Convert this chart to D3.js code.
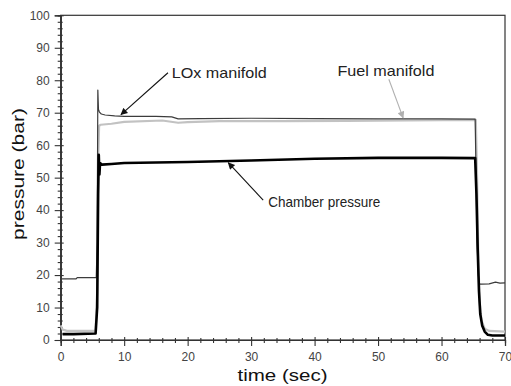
<!DOCTYPE html>
<html>
<head>
<meta charset="utf-8">
<script src="https://cdn.jsdelivr.net/npm/d3@7"></script>
<style>
  html, body { margin: 0; padding: 0; background: #fff; }
  svg { display: block; font-family: Arial, "Liberation Sans", sans-serif; }
</style>
</head>
<body>
<svg width="511" height="386"></svg>
<script>
// LOx manifold (thin dark grey)
const loxTime = [0, 2.4, 2.6, 5.6, 5.75, 5.85, 5.95, 6.1, 6.4, 7, 8.5, 10, 15, 17.5, 18.5, 22, 30, 40, 50, 60, 65.3, 65.45, 65.6, 65.8, 66.0, 66.3, 67.5, 68.5, 69.2, 70];
const loxValue = [18.8, 18.8, 19.2, 19.2, 30, 77, 71, 70.2, 69.6, 69.3, 69.0, 68.9, 68.9, 68.7, 68.1, 68.2, 68.3, 68.2, 68.1, 68.1, 68.0, 50, 30, 20, 17.2, 17.2, 17.3, 17.8, 17.5, 17.6];

// Fuel manifold (light grey)
const fuelTime = [0, 0.3, 1, 5.5, 5.75, 5.9, 6.05, 6.3, 8, 10, 16, 18.5, 20, 25, 35, 45, 55, 65.4, 65.6, 65.8, 66.0, 66.3, 66.8, 67.5, 70];
const fuelValue = [4.5, 3.2, 2.8, 2.8, 15, 55, 66, 66.3, 66.6, 67.2, 67.6, 66.9, 67.1, 67.4, 67.4, 67.5, 67.6, 67.8, 50, 25, 12, 6, 3.5, 2.8, 2.6];

// Chamber pressure (thick black)
const chamberTime = [0.3, 2, 5.5, 5.75, 5.9, 6.0, 6.1, 6.2, 6.5, 8, 10, 20, 30, 40, 50, 60, 65.3, 65.5, 65.7, 65.9, 66.1, 66.4, 66.8, 67.3, 68, 70];
const chamberValue = [1.8, 1.8, 2.0, 10, 45, 57, 51, 54.5, 54, 54.2, 54.5, 54.8, 55.3, 55.8, 56.1, 56.1, 56.0, 45, 28, 15, 8, 4.5, 2.6, 1.6, 1.4, 1.4];

const xTicks = [0, 10, 20, 30, 40, 50, 60, 70];
const yTicks = [0, 10, 20, 30, 40, 50, 60, 70, 80, 90, 100];

// annotations: label anchor and arrow in data units
const notes = [
  { text: "LOx manifold", tx: 17.5, ty: 82.2, x0: 16.9, y0: 82.3, x1: 9.5, y1: 69.4, color: "#111", len: 95 },
  { text: "Fuel manifold", tx: 43.6, ty: 82.9, x0: 51.7, y0: 80.3, x1: 53.95, y1: 68.4, color: "#b0b0b0", len: 97 },
  { text: "Chamber pressure", tx: 32.7, ty: 42.6, x0: 31.9, y0: 43.1, x1: 26.4, y1: 54.6, color: "#111", len: 112 }
];

const svg = d3.select("svg");
const plotLeft = 60.7, plotRight = 505, plotTop = 15.3, plotBottom = 340;

const x = d3.scaleLinear().domain([0, 70]).range([plotLeft, plotRight]);
const y = d3.scaleLinear().domain([0, 100]).range([plotBottom, plotTop]);

// frame
svg.append("rect")
  .attr("x", plotLeft).attr("y", plotTop)
  .attr("width", plotRight - plotLeft).attr("height", plotBottom - plotTop)
  .attr("fill", "none").attr("stroke", "#333").attr("stroke-width", 1.2);

// minor ticks
const minorX = d3.range(0, 71, 2).filter(d => d % 10 !== 0);
const minorY = d3.range(0, 101, 2).filter(d => d % 10 !== 0);

const gxMinor = svg.append("g").attr("transform", `translate(0,${plotBottom})`)
  .call(d3.axisBottom(x).tickValues(minorX).tickSize(3).tickFormat(""));
gxMinor.selectAll("line").attr("y1", -2);
const gyMinor = svg.append("g").attr("transform", `translate(${plotLeft},0)`)
  .call(d3.axisLeft(y).tickValues(minorY).tickSize(3).tickFormat(""));
gyMinor.selectAll("line").attr("x1", 2);

// major axes
const gx = svg.append("g").attr("transform", `translate(0,${plotBottom})`)
  .call(d3.axisBottom(x).tickValues(xTicks).tickSize(6).tickPadding(6));
gx.selectAll("line").attr("y1", -3);
const gy = svg.append("g").attr("transform", `translate(${plotLeft},0)`)
  .call(d3.axisLeft(y).tickValues(yTicks).tickSize(6).tickPadding(5));
gy.selectAll("line").attr("x1", 3);

[gx, gy, gxMinor, gyMinor].forEach(g => {
  g.select(".domain").attr("stroke", "#333").attr("stroke-width", 1.2);
  g.selectAll("line").attr("stroke", "#333").attr("stroke-width", 1.1);
  g.selectAll("text").attr("fill", "#444").style("font-size", "12px");
});

// axis titles
svg.append("text")
  .attr("x", 282.5).attr("y", 381)
  .attr("text-anchor", "middle")
  .attr("textLength", 90).attr("lengthAdjust", "spacingAndGlyphs")
  .style("font-size", "17px").attr("fill", "#111")
  .text("time (sec)");

svg.append("text")
  .attr("transform", "translate(24,174) rotate(-90)")
  .attr("text-anchor", "middle")
  .attr("textLength", 132).attr("lengthAdjust", "spacingAndGlyphs")
  .style("font-size", "17px").attr("fill", "#111")
  .text("pressure (bar)");

// series
const line = d3.line().x(d => x(d[0])).y(d => y(d[1]));
const zip = (t, v) => t.map((d, i) => [d, v[i]]);

const plot = svg.append("g");
plot.append("path").datum(zip(fuelTime, fuelValue))
  .attr("d", line).attr("fill", "none")
  .attr("stroke", "#c2c2c2").attr("stroke-width", 2.2).attr("stroke-linejoin", "round");
plot.append("path").datum(zip(loxTime, loxValue))
  .attr("d", line).attr("fill", "none")
  .attr("stroke", "#3c3c3c").attr("stroke-width", 1.2).attr("stroke-linejoin", "round");
plot.append("path").datum(zip(chamberTime, chamberValue))
  .attr("d", line).attr("fill", "none")
  .attr("stroke", "#000").attr("stroke-width", 2.6).attr("stroke-linejoin", "round");

// arrow heads
const defs = svg.append("defs");
notes.forEach((n, i) => {
  defs.append("marker")
    .attr("id", `arrow${i}`)
    .attr("viewBox", "0 0 10 10")
    .attr("refX", 9).attr("refY", 5)
    .attr("markerWidth", 9).attr("markerHeight", 7)
    .attr("markerUnits", "userSpaceOnUse")
    .attr("orient", "auto")
    .append("path").attr("d", "M0,0 L10,5 L0,10 Z").attr("fill", n.color);
});

const ann = svg.append("g");
ann.selectAll("line").data(notes).join("line")
  .attr("x1", d => x(d.x0)).attr("y1", d => y(d.y0))
  .attr("x2", d => x(d.x1)).attr("y2", d => y(d.y1))
  .attr("stroke", d => d.color).attr("stroke-width", 1.1)
  .attr("marker-end", (d, i) => `url(#arrow${i})`);

ann.selectAll("text").data(notes).join("text")
  .attr("x", d => x(d.tx)).attr("y", d => y(d.ty))
  .attr("dy", "0.35em")
  .attr("textLength", d => d.len).attr("lengthAdjust", "spacingAndGlyphs")
  .style("font-size", "15px").attr("fill", "#222")
  .text(d => d.text);
</script>
</body>
</html>
